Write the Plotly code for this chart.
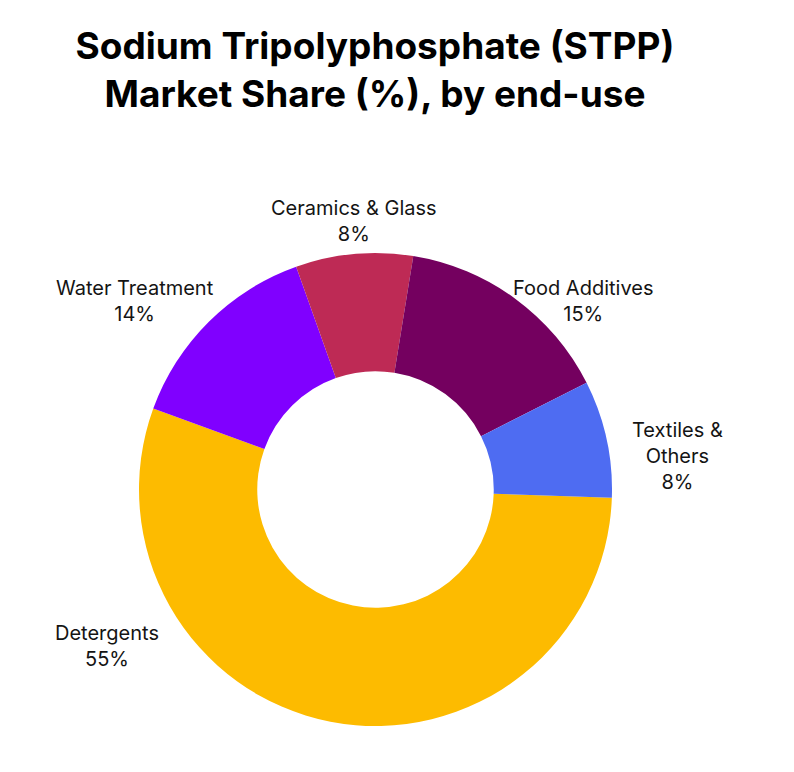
import plotly.graph_objects as go

# market share by end-use (%)
segments = ["Detergents", "Water Treatment", "Ceramics & Glass", "Food Additives", "Textiles & Others"]
shares = [55, 14, 8, 15, 8]
colors = ["#FDBB00", "#8000FF", "#BE2A55", "#74005F", "#4E6CF2"]

# where each outside label sits (pixel centre inside the figure; page adds 8px body margin)
label_pos = [(99, 638), (127, 293), (346, 213), (575, 293), (669, 448)]
W, H = 794, 772

fig = go.Figure(go.Pie(
    labels=segments,
    values=shares,
    hole=0.5,
    sort=False,
    direction="clockwise",
    rotation=92,
    marker=dict(colors=colors, line=dict(width=0)),
    textinfo="none",
    hoverinfo="label+percent",
    domain=dict(x=[131 / W, 604 / W], y=[54 / H, 527 / H]),
    showlegend=False,
))

total = sum(shares)
for name, val, (px, py) in zip(segments, shares, label_pos):
    txt = name.replace("Textiles & ", "Textiles &<br>")
    fig.add_annotation(
        text=f"{txt}<br>{round(100 * val / total)}%",
        x=px / W, y=1 - py / H, xref="paper", yref="paper",
        xanchor="center", yanchor="middle", showarrow=False,
        font=dict(family="Inter", size=20, color="#141414"),
    )

fig.update_layout(
    width=W,
    height=H,
    margin=dict(l=0, r=0, t=0, b=0),
    paper_bgcolor="white",
    plot_bgcolor="white",
    title=dict(
        text="<b>Sodium Tripolyphosphate (STPP)<br>Market Share (%), by end-use</b>",
        font=dict(family="Inter", size=37, color="black"),
        x=367 / W, xanchor="center",
        y=1 - 51 / H, yanchor="middle", yref="container",
    ),
)

fig.write_html("out.html")
